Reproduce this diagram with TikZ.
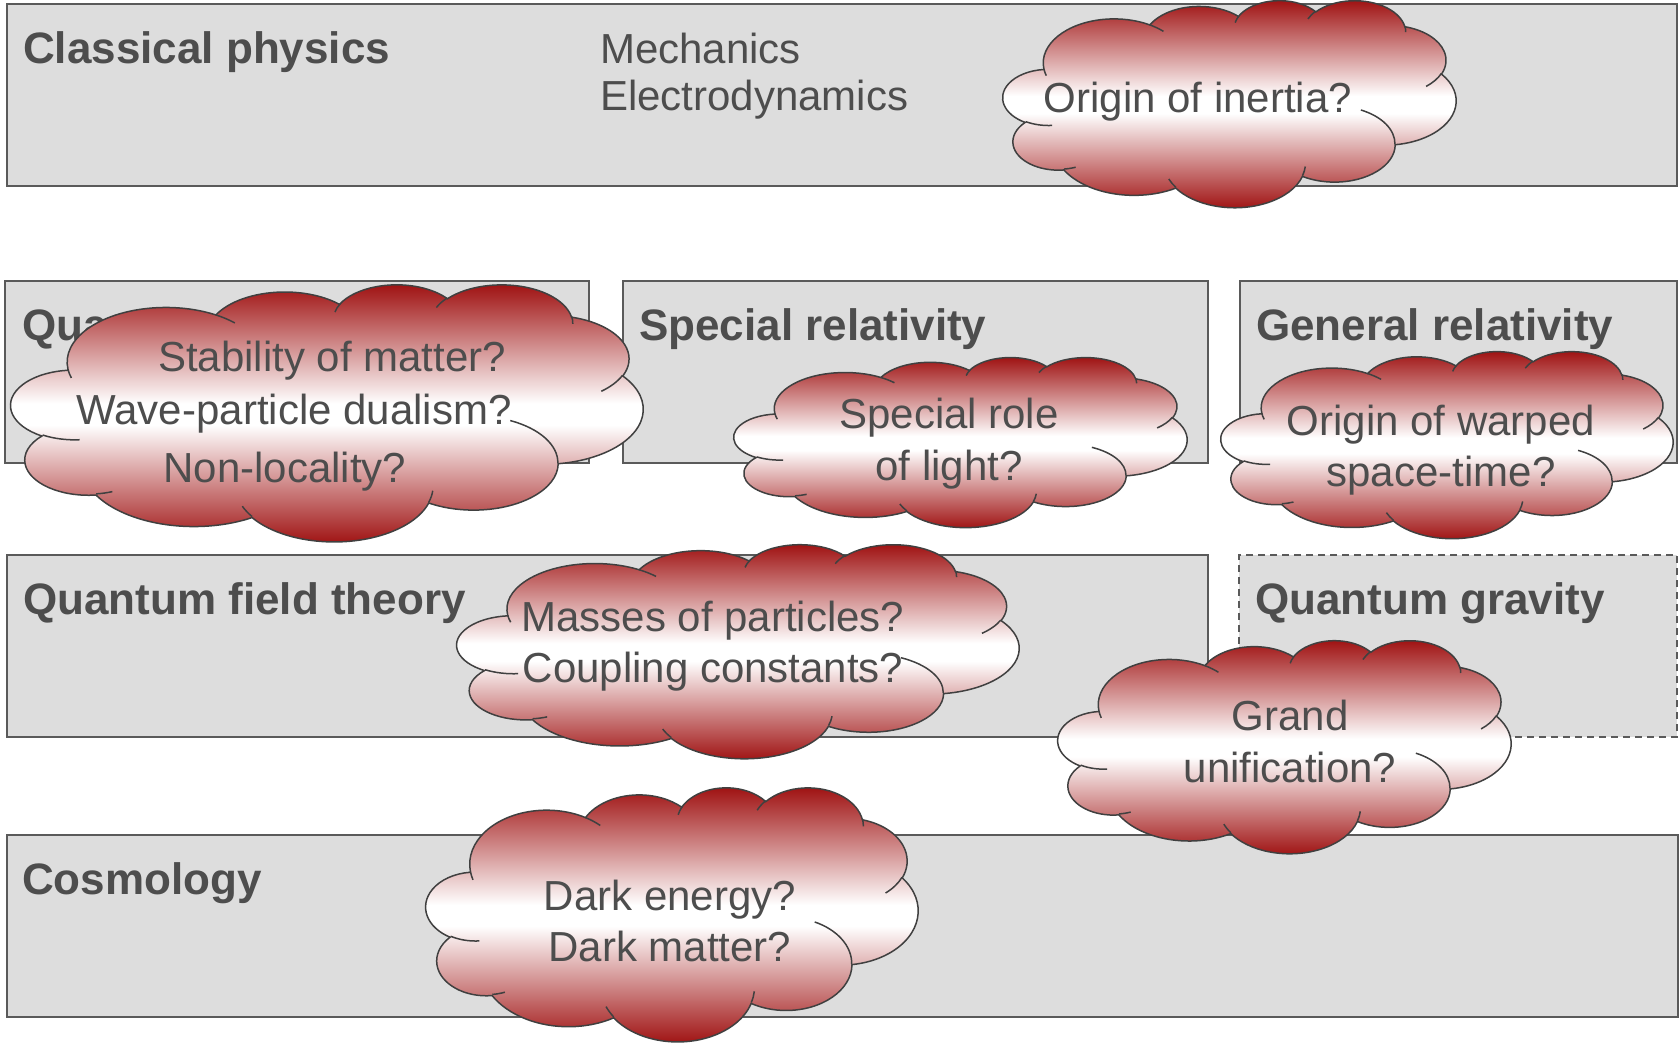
\documentclass[tikz,border=0pt]{standalone}
\usepackage{fontspec}
\setmainfont{Liberation Sans}
\definecolor{boxgray}{HTML}{DDDDDD}
\definecolor{linegray}{HTML}{5A5A5A}
\definecolor{textgray}{HTML}{4D4D4D}
\definecolor{clouddark}{HTML}{A01414}
\definecolor{cloudline}{HTML}{404040}
\pgfdeclareverticalshading{cloudfade}{100bp}{color(0bp)=(clouddark); color(26bp)=(clouddark);
  color(48bp)=(white); color(52bp)=(white); color(74bp)=(clouddark); color(100bp)=(clouddark)}

% one elliptic puff: x radius, y radius, start angle, sweep (angles as seen on the page)
\newcommand\puff[4]{arc[x radius=#1, y radius=#2,
  start angle={atan2(#1*sin(#3), #2*cos(#3))},
  delta angle={Mod(atan2(#1*sin(#3+#4), #2*cos(#3+#4)) - atan2(#1*sin(#3), #2*cos(#3)), 360)}]}

% cloud in a 43.2 x 43.2 frame: name, left, top, width, height
\newcommand\questioncloud[5]{%
  \begin{scope}[shift={(#2, #3)}, xscale=#4/43.2, yscale=#5/43.2]
    \shadedraw[puzzle] (3.9, 14.37) \puff{6.753}{9.19}{-190.4875}{123.7805}
      \puff{5.333}{7.267}{-144.1024}{89.9452} \puff{4.365}{5.945}{-145.8079}{99.723}
      \puff{4.857}{6.595}{-130.9861}{117.2417} \puff{5.333}{7.273}{-78.7089}{109.0269}
      \puff{6.775}{9.22}{-46.2673}{130.269} \puff{5.785}{7.867}{0.625}{114.0333}
      \puff{6.752}{9.215}{22.4516}{115.1726} \puff{7.72}{10.543}{66.2426}{75.711}
      \puff{4.36}{5.918}{-274.9421}{146.7356} \puff{4.345}{5.945}{-246.8285}{152.5189} -- cycle;
    \draw[puzzleline] (4.693, 26.177) \puff{4.345}{5.945}{86.742}{26.4295}
      (6.928, 34.899) \puff{4.36}{5.918}{73.6105}{11.4475}
      (16.478, 39.09) \puff{6.752}{9.215}{137.6242}{14.0811}
      (28.827, 34.751) \puff{6.752}{9.215}{6.4533}{15.9984}
      (34.129, 22.954) \puff{5.785}{7.867}{-70.2924}{70.9174}
      (41.798, 15.354) \puff{5.333}{7.273}{30.318}{27.7515}
      (38.324, 5.426) \puff{4.857}{6.595}{-13.7443}{14.8589}
      (29.078, 3.952) \puff{4.857}{6.595}{-149.1815}{18.1954}
      (22.141, 4.72) \puff{4.365}{5.945}{-163.4943}{17.6864}
      (14.0, 5.192) \puff{6.753}{9.19}{-66.707}{12.3194}
      (4.127, 15.789) \puff{6.753}{9.19}{157.6544}{11.8582};
    \coordinate (#1) at (21.6, 21.6);
  \end{scope}}

\begin{document}
\begin{tikzpicture}[x=1pt, y=-1pt,
    field/.style={rectangle, draw=linegray, fill=boxgray, line width=2pt, minimum height=182pt, inner sep=0pt},
    heading/.style={anchor=base west, text=textgray, font=\fontsize{44}{52}\selectfont\bfseries, inner sep=0pt},
    topic/.style={anchor=base west, text=textgray, font=\fontsize{42}{50}\selectfont, inner sep=0pt},
    puzzle/.style={draw=cloudline, line width=1.5pt, shading=cloudfade},
    puzzleline/.style={draw=cloudline, line width=1.5pt},
    question/.style={anchor=base, text=textgray, font=\fontsize{42}{50}\selectfont, inner sep=0pt}]
    \useasboundingbox (0, 0) rectangle (1679, 1042);

    \node[field, minimum width=1670pt] at (842, 95)   (classical) {};
    \node[field, minimum width=584pt]  at (297, 372)  (qm)        {};
    \node[field, minimum width=585pt]  at (915, 372)  (sr)        {};
    \node[field, minimum width=437pt]  at (1458, 372) (gr)        {};
    \node[field, minimum width=1201pt] at (607, 646)  (qft)       {};
    \node[field, minimum width=438pt, dash pattern=on 7pt off 5pt] at (1458, 646) (qg) {};
    \node[field, minimum width=1671pt] at (842, 926)  (cosmo)     {};

    \node[heading] at (23, 63)    (classicalhead) {Classical physics};
    \node[heading] at (22, 340)   (qmhead)        {Quantum mechanics};
    \node[heading] at (639, 340)  (srhead)        {Special relativity};
    \node[heading] at (1256, 340) (grhead)        {General relativity};
    \node[heading] at (23, 614)   (qfthead)       {Quantum field theory};
    \node[heading] at (1255, 614) (qghead)        {Quantum gravity};
    \node[heading] at (22, 894)   (cosmohead)     {Cosmology};

    \node[topic] at (600, 63)  (mech) {Mechanics};
    \node[topic] at (600, 110) (edyn) {Electrodynamics};

    \questioncloud{inertia}{1003}{0}{453}{207}
    \questioncloud{quantum}{11}{284}{632}{257}
    \questioncloud{light}{734}{357}{453}{170}
    \questioncloud{warped}{1221}{351}{452}{187}
    \questioncloud{masses}{457}{544}{562}{214}
    \questioncloud{unify}{1058}{640}{453}{213}
    \questioncloud{dark}{426}{787}{492}{254}

    \node[question] at (1198, 112) (inertiatext) {Origin of inertia?};
    \node[question] at (332, 371)  (stability)   {Stability of matter?};
    \node[question] at (294, 424)  (dualism)     {Wave-particle dualism?};
    \node[question] at (285, 482)  (nonlocal)    {Non-locality?};
    \node[question] at (949, 428)  (lighta)      {Special role};
    \node[question] at (949, 480)  (lightb)      {of light?};
    \node[question] at (1441, 435) (warpeda)     {Origin of warped};
    \node[question] at (1441, 486) (warpedb)     {space-time?};
    \node[question] at (713, 631)  (massesa)     {Masses of particles?};
    \node[question] at (713, 682)  (massesb)     {Coupling constants?};
    \node[question] at (1290, 730) (unifya)      {Grand};
    \node[question] at (1290, 782) (unifyb)      {unification?};
    \node[question] at (670, 910)  (darka)       {Dark energy?};
    \node[question] at (670, 961)  (darkb)       {Dark matter?};
\end{tikzpicture}
\end{document}
